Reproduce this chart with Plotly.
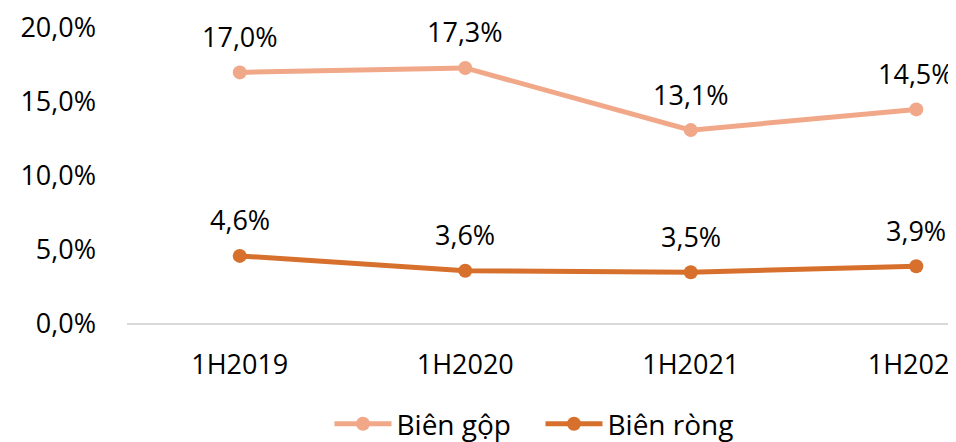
import plotly.graph_objects as go

categories = ["1H2019", "1H2020", "1H2021", "1H2022"]
bien_gop = [17.0, 17.3, 13.1, 14.5]
bien_rong = [4.6, 3.6, 3.5, 3.9]
y_ticks = [0, 5, 10, 15, 20]
y_tick_labels = ["0,0%", "5,0%", "10,0%", "15,0%", "20,0%"]

FONT = "Open Sans"
FS = 27
C_GOP = "#F1A889"
C_RONG = "#D6702C"

def fmt(v):
    return f"{v:.1f}".replace(".", ",") + "%"

fig = go.Figure()
fig.add_trace(go.Scatter(x=list(range(len(categories))), y=bien_gop, name="Biên gộp",
                         mode="lines+markers", line=dict(color=C_GOP, width=5),
                         marker=dict(size=14, color=C_GOP)))
fig.add_trace(go.Scatter(x=list(range(len(categories))), y=bien_rong, name="Biên ròng",
                         mode="lines+markers", line=dict(color=C_RONG, width=5),
                         marker=dict(size=14, color=C_RONG)))

for series in (bien_gop, bien_rong):
    for i, v in enumerate(series):
        fig.add_annotation(x=i, y=v, text=fmt(v), showarrow=False, yshift=36,
                           font=dict(family=FONT, size=FS, color="#000000"))

# page body has an 8px default margin; compensate so the plot lands where it should
plot_left = 119
fig_w = 956
step = 225.5
fig.update_layout(
    width=956, height=442,
    margin=dict(l=plot_left, r=0, t=20, b=126, autoexpand=False),
    paper_bgcolor="white", plot_bgcolor="white",
    font=dict(family=FONT, size=FS, color="#000000"),
    showlegend=True,
    legend=dict(orientation="h", x=0.494, xanchor="center",
                y=-0.338, yanchor="middle", font=dict(family=FONT, size=28, color="#000000"),
                itemwidth=57, entrywidth=139, entrywidthmode="pixels", traceorder="normal"),
    xaxis=dict(tickmode="array", tickvals=list(range(len(categories))), ticktext=categories,
               range=[-0.5, -0.5 + (fig_w - plot_left) / step], showgrid=False, zeroline=False,
               showline=False, ticks="", ticklabelstandoff=22, ticklabeloverflow="allow",
               fixedrange=True),
    yaxis=dict(range=[0, 20], tickmode="array", tickvals=y_ticks, ticktext=y_tick_labels,
               showgrid=False, zeroline=True, zerolinecolor="#D9D9D9", zerolinewidth=2,
               showline=False, ticks="", ticklabelstandoff=30),
)

fig.write_html("out.html")
